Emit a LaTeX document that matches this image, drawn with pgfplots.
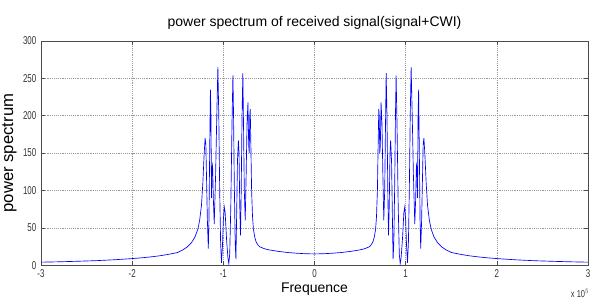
\documentclass[border=0pt]{standalone}
\usepackage{pgfplots}
\pgfplotsset{compat=1.18}
\usepackage{fontspec}
\setmainfont{Liberation Sans}
\begin{document}
\begin{tikzpicture}
\begin{axis}[name=ax,
  scale only axis, width=410pt, height=168pt,
  xmin=-3, xmax=3, ymin=0, ymax=300,
  xtick={-3,-2,-1,0,1,2,3}, ytick={0,50,...,300},
  scaled x ticks=false,
  /pgf/number format/assume math mode=true,
  tick align=inside, major tick length=3pt,
  grid=major, grid style={densely dotted, gray!80, line width=0.4pt},
  axis line style={gray!60!black, line width=0.5pt},
  every tick/.style={gray!60!black},
  xticklabel={\scalebox{0.7}[1]{\pgfmathprintnumber{\tick}}},
  yticklabel={\scalebox{0.7}[1]{\pgfmathprintnumber{\tick}}},
  ticklabel style={font=\fontsize{8.5}{9}\selectfont, text=black!80},
  title={power spectrum of received signal(signal+CWI)},
  title style={font=\fontsize{10.5}{12}\selectfont, yshift=-1pt},
  xlabel={Frequence}, xlabel style={font=\fontsize{10.5}{12}\selectfont, yshift=3pt},
  ylabel={power spectrum}, ylabel style={font=\fontsize{12.5}{14}\selectfont, yshift=-2pt},
  clip=true,
]
\addplot[blue, line width=0.5pt] coordinates {
(-3.00,4) (-2.80,4.5) (-2.60,5.2) (-2.40,6) (-2.20,7.2) (-2.00,8.8) (-1.90,9.8) (-1.80,11) (-1.70,12.5) (-1.60,14.5)
(-1.50,17) (-1.45,20) (-1.40,24) (-1.35,30) (-1.31,38) (-1.28,48) (-1.26,60) (-1.24,80) (-1.225,110) (-1.21,150)
(-1.200,170) (-1.192,162) (-1.185,120) (-1.175,60) (-1.165,22) (-1.158,60) (-1.150,150) (-1.142,235) (-1.136,200) (-1.130,90)
(-1.124,130) (-1.118,134) (-1.110,90) (-1.100,55) (-1.085,120) (-1.072,200) (-1.060,265) (-1.050,200) (-1.040,100) (-1.030,30)
(-1.020,3) (-1.010,25) (-1.000,60) (-0.990,78) (-0.980,70) (-0.965,35) (-0.950,10) (-0.940,2) (-0.930,15) (-0.918,80)
(-0.905,190) (-0.895,254) (-0.888,200) (-0.880,110) (-0.870,30) (-0.862,8) (-0.855,60) (-0.845,140) (-0.835,167) (-0.828,150)
(-0.820,80) (-0.812,40) (-0.805,90) (-0.795,200) (-0.786,257) (-0.778,180) (-0.770,100) (-0.760,60) (-0.750,120) (-0.740,190)
(-0.730,218) (-0.722,160) (-0.716,150) (-0.710,200) (-0.705,209) (-0.698,160) (-0.690,100) (-0.680,65) (-0.670,48) (-0.655,37)
(-0.640,31) (-0.620,27) (-0.600,24.5) (-0.550,22) (-0.500,20.5) (-0.400,18.5) (-0.300,17) (-0.200,16) (-0.100,15.3) (0.000,15)
(0.100,15.3) (0.200,16) (0.300,17) (0.400,18.5) (0.500,20.5) (0.550,22) (0.600,24.5) (0.620,27) (0.640,31)
(0.655,37) (0.670,48) (0.680,65) (0.690,100) (0.698,160) (0.705,209) (0.710,200) (0.716,150) (0.722,160) (0.730,218)
(0.740,190) (0.750,120) (0.760,60) (0.770,100) (0.778,180) (0.786,257) (0.795,200) (0.805,90) (0.812,40) (0.820,80)
(0.828,150) (0.835,167) (0.845,140) (0.855,60) (0.862,8) (0.870,30) (0.880,110) (0.888,200) (0.895,254) (0.905,190)
(0.918,80) (0.930,15) (0.940,2) (0.950,10) (0.965,35) (0.980,70) (0.990,78) (1.000,60) (1.010,25) (1.020,3)
(1.030,30) (1.040,100) (1.050,200) (1.060,265) (1.072,200) (1.085,120) (1.100,55) (1.110,90) (1.118,134) (1.124,130)
(1.130,90) (1.136,200) (1.142,235) (1.150,150) (1.158,60) (1.165,22) (1.175,60) (1.185,120) (1.192,162) (1.200,170)
(1.21,150) (1.225,110) (1.24,80) (1.26,60) (1.28,48) (1.31,38) (1.35,30) (1.40,24) (1.45,20) (1.50,17)
(1.60,14.5) (1.70,12.5) (1.80,11) (1.90,9.8) (2.00,8.8) (2.20,7.2) (2.40,6) (2.60,5.2) (2.80,4.5) (3.00,4)
};
\end{axis}
\node[font=\fontsize{7.5}{8}\selectfont, text=black!80, anchor=north east, inner sep=0pt] at ([xshift=1pt,yshift=-18pt]ax.south east) {\scalebox{0.75}[1]{x 10$^{5}$}};
\pgfresetboundingbox
\path ([xshift=-30.75pt,yshift=-29.25pt]ax.south west) rectangle ([xshift=2.25pt,yshift=30.75pt]ax.north east);
\end{tikzpicture}
\end{document}
